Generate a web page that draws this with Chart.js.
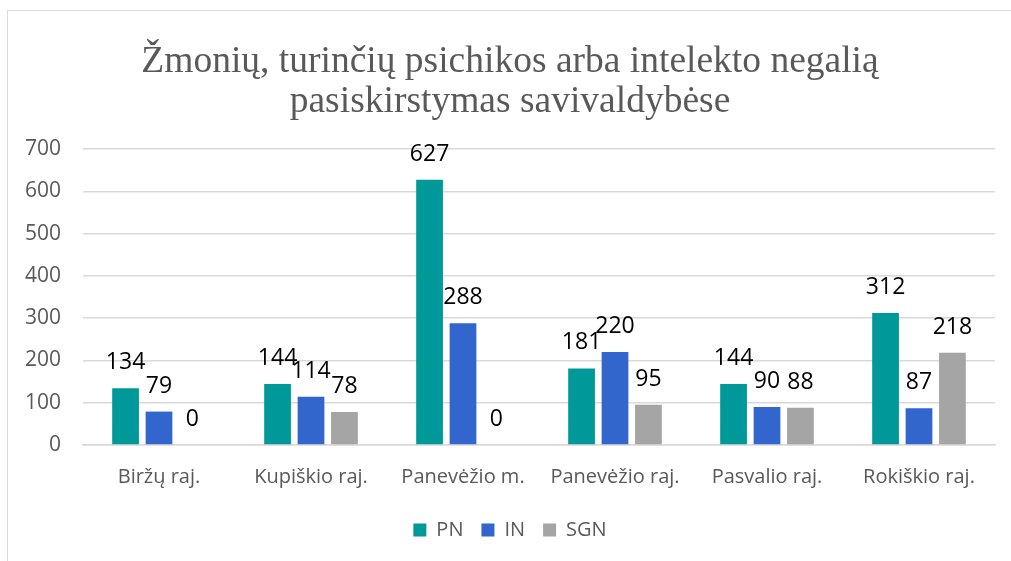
<!DOCTYPE html>
<html>
<head>
<meta charset="utf-8">
<script src="https://cdn.jsdelivr.net/npm/chart.js@4.4.1/dist/chart.umd.min.js"></script>
<style>
  html, body { margin: 0; padding: 0; background: #fff; overflow: hidden; }
  .frame { position: absolute; left: 7px; top: 10px; width: 1100px; height: 700px; border: 1px solid #d9d9d9; box-sizing: border-box; }
  .wrap { position: absolute; left: 0; top: 0; width: 1011px; height: 561px; }
</style>
</head>
<body>
<div class="frame"></div>
<div class="wrap"><canvas id="c"></canvas></div>
<script>
'use strict';

const categories = ['Biržų raj.', 'Kupiškio raj.', 'Panevėžio m.', 'Panevėžio raj.', 'Pasvalio raj.', 'Rokiškio raj.'];
const pnValues = [134, 144, 627, 181, 144, 312];
const inValues = [79, 114, 288, 220, 90, 87];
const sgnValues = [0, 78, 0, 95, 88, 218];
const titleLines = ['Žmonių, turinčių psichikos arba intelekto negalią', 'pasiskirstymas savivaldybėse'];

const SANS = "'Open Sans', 'Noto Sans', sans-serif";
const GRAY_TEXT = '#595959';

// value labels above each bar
const barLabels = {
  id: 'barLabels',
  afterDatasetsDraw(chart) {
    const ctx = chart.ctx;
    ctx.save();
    ctx.font = '23px ' + SANS;
    ctx.fillStyle = '#000';
    ctx.textAlign = 'center';
    ctx.textBaseline = 'alphabetic';
    chart.data.datasets.forEach((ds, i) => {
      const meta = chart.getDatasetMeta(i);
      meta.data.forEach((bar, j) => {
        ctx.fillText(String(ds.data[j]), bar.x, bar.y - 19);
      });
    });
    ctx.restore();
  }
};

new Chart(document.getElementById('c'), {
  type: 'bar',
  data: {
    labels: categories,
    datasets: [
      { label: 'PN', data: pnValues, backgroundColor: '#009999' },
      { label: 'IN', data: inValues, backgroundColor: '#3366cc' },
      { label: 'SGN', data: sgnValues, backgroundColor: '#a5a5a5' },
    ],
  },
  options: {
    responsive: true,
    maintainAspectRatio: false,
    animation: false,
    categoryPercentage: 0.66,
    barPercentage: 0.8,
    layout: { padding: { left: 25, right: 16, top: 0, bottom: 11 } },
    plugins: {
      title: {
        display: true,
        text: titleLines,
        color: GRAY_TEXT,
        font: { family: "'Liberation Serif', 'Times New Roman', serif", size: 37.5, weight: 'normal', lineHeight: 40 / 37.5 },
        padding: { top: 42, bottom: 27 },
      },
      legend: {
        position: 'bottom',
        labels: {
          color: GRAY_TEXT,
          font: { family: SANS, size: 20 },
          boxWidth: 13,
          boxHeight: 13,
          padding: 18,
        },
      },
      tooltip: { enabled: false },
    },
    scales: {
      x: {
        grid: { display: false, drawTicks: false },
        border: { display: true, color: '#d9d9d9', width: 1.5 },
        ticks: { color: GRAY_TEXT, font: { family: SANS, size: 20 }, padding: 20 },
        afterFit: (s) => { s.height -= 7; },
      },
      y: {
        min: 0,
        max: 700,
        ticks: { stepSize: 100, color: GRAY_TEXT, font: { family: SANS, size: 21 }, padding: 22 },
        grid: { color: '#d9d9d9', lineWidth: 1.5, drawTicks: false },
        border: { display: false },
        afterFit: (s) => { s.width = 58; },
      },
    },
  },
  plugins: [barLabels],
});
</script>
</body>
</html>
